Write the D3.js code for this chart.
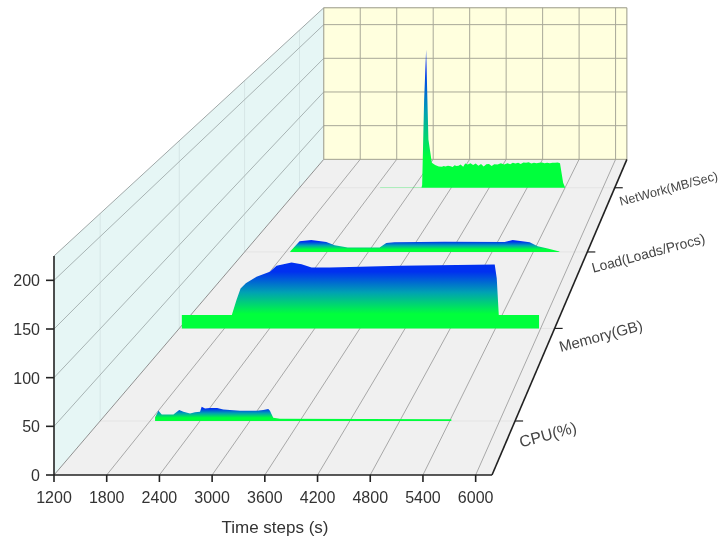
<!DOCTYPE html>
<html>
<head>
<meta charset="utf-8">
<script src="https://cdn.jsdelivr.net/npm/d3@7"></script>
<style>
html, body { margin: 0; padding: 0; background: #fff; }
svg { display: block; font-family: "Liberation Sans", Arial, sans-serif; filter: blur(0.7px); }
</style>
</head>
<body>
<svg id="chart" width="719" height="536"></svg>
<script>
var categories = ["CPU(%)", "Memory(GB)", "Load(Loads/Procs)", "NetWork(MB/Sec)"];
var x_ticks = [1200, 1800, 2400, 3000, 3600, 4200, 4800, 5400, 6000];
var y_ticks = [0, 50, 100, 150, 200];

var cpu_times = [1860, 1900, 1940, 2080, 2150, 2200, 2280, 2340, 2400, 2420, 2460, 2520, 2605, 2680, 2760, 2880, 3085, 3160, 3220, 3240, 3280, 3360, 5420];
var cpu_values = [4, 11, 7, 7, 12, 10, 8, 9.5, 10, 15.5, 13.5, 14, 14, 12.5, 12, 11, 11, 12, 13, 11, 3.5, 2.5, 2];

var memory_times = [1234, 1898, 1960, 2014, 2084, 2226, 2403, 2492, 2691, 2824, 2957, 3200, 4129, 5390, 5417, 5444, 5979];
var memory_values = [16, 16, 34, 48, 54, 62, 68, 75, 79, 77, 73, 73, 75, 76.5, 60, 16, 16];

var load_times = [1865, 2000, 2170, 2388, 2510, 2700, 3164, 3261, 3380, 4110, 4984, 5100, 5347, 5464, 5610, 5780];
var load_values = [1, 14, 15.7, 13, 8.7, 6, 6, 11.8, 12.7, 13.5, 13, 15.7, 12.7, 7.4, 4.4, 0.5];

var network_times = [2475, 3130, 3140, 3171, 3203, 3239, 3293, 3345, 3402, 3454, 3480, 3507, 3548, 3590, 3622, 3653, 3684, 3716, 3747, 3789, 3820, 3862, 3904, 3946, 3987, 4029, 4071, 4113, 4155, 4197, 4239, 4280, 4333, 4385, 4437, 4490, 4532, 4574, 4615, 4657, 4699, 4741, 4783, 4825, 4866, 4908, 4950, 4992, 5034, 5076, 5117, 5159, 5201, 5243, 5285, 5320, 5370, 5400];
var network_values = [0.5, 0.5, 4, 125, 197, 69, 35.6, 32.3, 30.5, 30, 31, 30.5, 31.5, 30.8, 29.5, 32, 31, 31.5, 33, 30, 34.5, 33, 35, 32.5, 34.5, 31.5, 34, 30.5, 33.5, 34, 31, 33.5, 33, 35, 33, 34.8, 33.5, 35.5, 34.5, 35.8, 34, 36, 35.8, 36.5, 34.5, 35.8, 34.8, 35.5, 36, 34.8, 35.5, 35, 35.8, 35.5, 36, 35, 7, 0.3];

var series_times = [cpu_times, memory_times, load_times, network_times];
var series_values = [cpu_values, memory_values, load_values, network_values];
var label_sizes = [16, 15, 13.8, 12.6];

var svg = d3.select("#chart");

var x = d3.scaleLinear().domain([1200, 6186]).range([54, 492]);
var y = d3.scaleLinear().domain([0, 225]).range([475, 256]);
var z = d3.scaleBand().domain(categories).range([0, 1]);

// perspective: everything shrinks towards one vanishing point as depth goes 0 -> 1
var vanish_x = 930;
var vanish_y = -550;
var depth_k = 0.445;

var project = function(t, v, d) {
    var s = 1 / (1 + depth_k * d);
    return [vanish_x + (x(t) - vanish_x) * s, vanish_y + (y(v) - vanish_y) * s];
};

var poly = function(pts) {
    return pts.map(function(p) { return p[0] + "," + p[1]; }).join(" ");
};

var x_min = x.domain()[0], x_max = x.domain()[1];
var y_max = y.domain()[1];

// the three panes
svg.append("polygon")
    .attr("points", poly([project(x_min, 0, 0), project(x_max, 0, 0), project(x_max, 0, 1), project(x_min, 0, 1)]))
    .attr("fill", "#f0f0f0");
svg.append("polygon")
    .attr("points", poly([project(x_min, 0, 0), project(x_min, y_max, 0), project(x_min, y_max, 1), project(x_min, 0, 1)]))
    .attr("fill", "#e6f6f5");
svg.append("polygon")
    .attr("points", poly([project(x_min, 0, 1), project(x_min, y_max, 1), project(x_max, y_max, 1), project(x_max, 0, 1)]))
    .attr("fill", "#ffffde");

var seg = function(a, b, color, width) {
    svg.append("line")
        .attr("x1", a[0]).attr("y1", a[1])
        .attr("x2", b[0]).attr("y2", b[1])
        .attr("stroke", color)
        .attr("stroke-width", width);
};

// light lines at the category positions
categories.forEach(function(c) {
    var d = z(c) + z.bandwidth() / 2;
    seg(project(x_min, 0, d), project(x_max, 0, d), "#e4e4e4", 1);
    seg(project(x_min, 0, d), project(x_min, y_max, d), "#d6e6e6", 1);
});

// time grid, floor and back wall
x_ticks.forEach(function(t) {
    if (t > x_min) {
        seg(project(t, 0, 0), project(t, 0, 1), "#a8a8a8", 1);
        seg(project(t, 0, 1), project(t, y_max, 1), "#a8a898", 1);
    }
});

// value grid, left wall and back wall
y_ticks.forEach(function(v) {
    if (v > 0) {
        seg(project(x_min, v, 0), project(x_min, v, 1), "#a8b4b4", 1);
        seg(project(x_min, v, 1), project(x_max, v, 1), "#a8a898", 1);
    }
});

// pane edges
seg(project(x_min, 0, 0), project(x_min, 0, 1), "#909090", 1);
seg(project(x_min, y_max, 0), project(x_min, y_max, 1), "#a0a8a8", 1);
seg(project(x_min, 0, 1), project(x_max, 0, 1), "#a0a090", 1);
seg(project(x_min, y_max, 1), project(x_max, y_max, 1), "#989888", 1);
seg(project(x_min, 0, 1), project(x_min, y_max, 1), "#989888", 1);
seg(project(x_max, 0, 1), project(x_max, y_max, 1), "#989888", 1);

// ribbons, back to front
var defs = svg.append("defs");
var grad = defs.append("linearGradient")
    .attr("id", "ribbon-grad")
    .attr("x1", 0).attr("y1", 0).attr("x2", 0).attr("y2", 1);
grad.append("stop").attr("offset", "0%").attr("stop-color", "#0030f0");
grad.append("stop").attr("offset", "14%").attr("stop-color", "#0030f0");
grad.append("stop").attr("offset", "45%").attr("stop-color", "#00a0b4");
grad.append("stop").attr("offset", "78%").attr("stop-color", "#00ff3c");
grad.append("stop").attr("offset", "100%").attr("stop-color", "#00ff3c");

d3.range(categories.length - 1, -1, -1).forEach(function(i) {
    var d = z(categories[i]) + z.bandwidth() / 2;
    var times = series_times[i];
    var values = series_values[i];
    var area = d3.area()
        .x(function(j) { return project(times[j], values[j], d)[0]; })
        .y1(function(j) { return project(times[j], values[j], d)[1]; })
        .y0(function(j) { return project(times[j], 0, d)[1]; })
        .curve(d3.curveLinear);
    svg.append("path")
        .attr("d", area(d3.range(times.length)))
        .attr("fill", "url(#ribbon-grad)");
});

// axes
seg(project(x_min, 0, 0), project(x_max, 0, 0), "#222", 1.6);
seg(project(x_min, 0, 0), project(x_min, y_max, 0), "#222", 1.6);
seg(project(x_max, 0, 0), project(x_max, 0, 1), "#222", 1.6);

x_ticks.forEach(function(t) {
    var p = project(t, 0, 0);
    seg(p, [p[0], p[1] + 7], "#222", 1.6);
    svg.append("text")
        .attr("x", p[0]).attr("y", p[1] + 28)
        .attr("text-anchor", "middle")
        .attr("font-size", 16)
        .attr("fill", "#333")
        .text(t);
});

y_ticks.forEach(function(v) {
    var p = project(x_min, v, 0);
    seg(p, [p[0] - 8, p[1]], "#222", 1.6);
    svg.append("text")
        .attr("x", p[0] - 14).attr("y", p[1] + 6)
        .attr("text-anchor", "end")
        .attr("font-size", 16)
        .attr("fill", "#333")
        .text(v);
});

svg.append("text")
    .attr("x", 275).attr("y", 533)
    .attr("text-anchor", "middle")
    .attr("font-size", 17)
    .attr("fill", "#333")
    .text("Time steps (s)");

categories.forEach(function(c, i) {
    var d = z(c) + z.bandwidth() / 2;
    var p = project(x_max, 0, d);
    seg(p, [p[0] + 8, p[1]], "#222", 1.2);
    svg.append("text")
        .attr("transform", "translate(" + (p[0] + 6) + "," + (p[1] + 26.5 - i * 2.8) + ") rotate(-15)")
        .attr("font-size", label_sizes[i])
        .attr("fill", "#444")
        .text(c);
});
</script>
</body>
</html>
